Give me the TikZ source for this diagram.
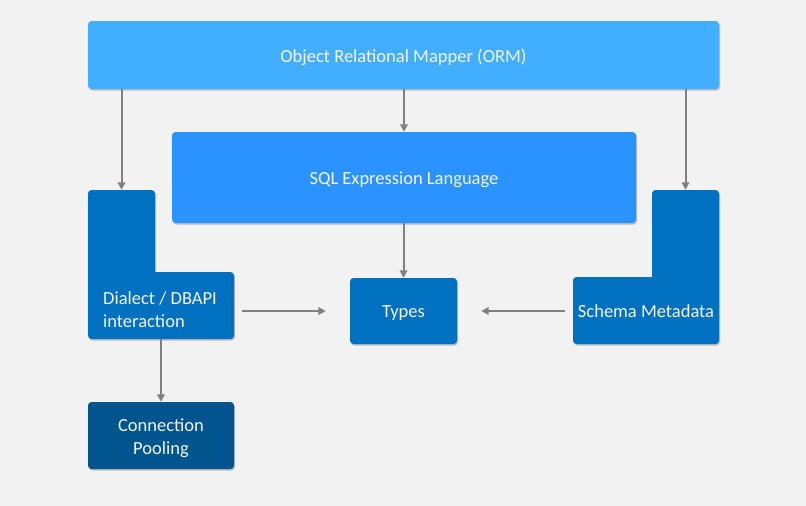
\documentclass[tikz,border=0pt]{standalone}
\usepackage{fontspec}
\setmainfont{Carlito}
\usetikzlibrary{shadows,arrows.meta}
\definecolor{bgc}{HTML}{F2F2F2}
\definecolor{ormc}{HTML}{42AEFF}
\definecolor{sqlc}{HTML}{2B93FF}
\definecolor{midc}{HTML}{0070C0}
\definecolor{poolc}{HTML}{00558F}
\definecolor{arrc}{HTML}{808080}
\definecolor{txtc}{HTML}{F4F4F4}
\tikzset{
  shad/.style={drop shadow={shadow xshift=1pt,shadow yshift=-1.5pt,opacity=0.22,fill=black}},
  boxnode/.style={shad,rounded corners=3.5pt,inner sep=0pt},
  ghost/.style={inner sep=0pt,draw=none,fill=none},
  lbl/.style={inner sep=0pt,text=txtc,font=\fontsize{18.5}{23}\selectfont,align=center},
  arr/.style={draw=arrc,line width=2pt,-{Triangle[length=7.5pt,width=7.5pt]}}
}
\begin{document}
\begin{tikzpicture}[x=1pt,y=-1pt]
\fill[bgc] (0,0) rectangle (806,506);
\useasboundingbox (0,0) rectangle (806,506);
% ORM
\node[boxnode,fill=ormc,minimum width=631pt,minimum height=68pt] (orm) at (403.5,55) {};
\node[lbl] (ormlbl) at ([yshift=-2.5pt]orm.center) {Object Relational Mapper (ORM)};
% SQL
\node[boxnode,fill=sqlc,minimum width=464pt,minimum height=91pt] (sql) at (404,177.5) {};
\node[lbl] (sqllbl) at ([yshift=-2.5pt]sql.center) {SQL Expression Language};
% Dialect L-shape
\fill[midc,shad,rounded corners=3.5pt] (88,190) -- (155,190) -- (155,272) [sharp corners] -- (155,272) [rounded corners=3.5pt] -- (234,272) -- (234,339) -- (88,339) -- cycle;
\node[ghost,minimum width=67pt,minimum height=82pt] (dialtop) at (121.5,231) {};
\node[ghost,minimum width=146pt,minimum height=67pt] (dial) at (161,305.5) {};
\node[lbl,align=left,anchor=west] (diallbl) at (103,310) {Dialect / DBAPI\\interaction};
% Schema L-shape
\fill[midc,shad,rounded corners=3.5pt] (652,190) -- (719,190) -- (719,344) -- (573,344) -- (573,277) [sharp corners] -- (652,277) [rounded corners=3.5pt] -- cycle;
\node[ghost,minimum width=67pt,minimum height=87pt] (schtop) at (685.5,233.5) {};
\node[ghost,minimum width=146pt,minimum height=67pt] (sch) at (646,310.5) {};
\node[lbl] (schlbl) at (646,311) {Schema Metadata};
% Types
\node[boxnode,fill=midc,minimum width=107pt,minimum height=66pt] (types) at (403.5,311) {};
\node[lbl] (typeslbl) at ([yshift=-2pt]types.center) {Types};
% Connection Pooling
\node[boxnode,fill=poolc,minimum width=146pt,minimum height=67pt] (pool) at (161,435.5) {};
\node[lbl] (poollbl) at ([yshift=-3pt]pool.center) {Connection\\Pooling};
% arrows
\draw[arr] (orm.south -| dialtop.north) -- (dialtop.north);
\draw[arr] (orm.south -| sql.north) -- (sql.north);
\draw[arr] (orm.south -| schtop.north) -- (schtop.north);
\draw[arr] (sql.south -| types.north) -- (types.north);
\draw[arr,shorten <=8pt,shorten >=24pt] (dial.east |- types.west) -- (types.west);
\draw[arr,shorten <=8pt,shorten >=24pt] (sch.west |- types.east) -- (types.east);
\draw[arr] (dial.south) -- (pool.north);
\end{tikzpicture}
\end{document}
